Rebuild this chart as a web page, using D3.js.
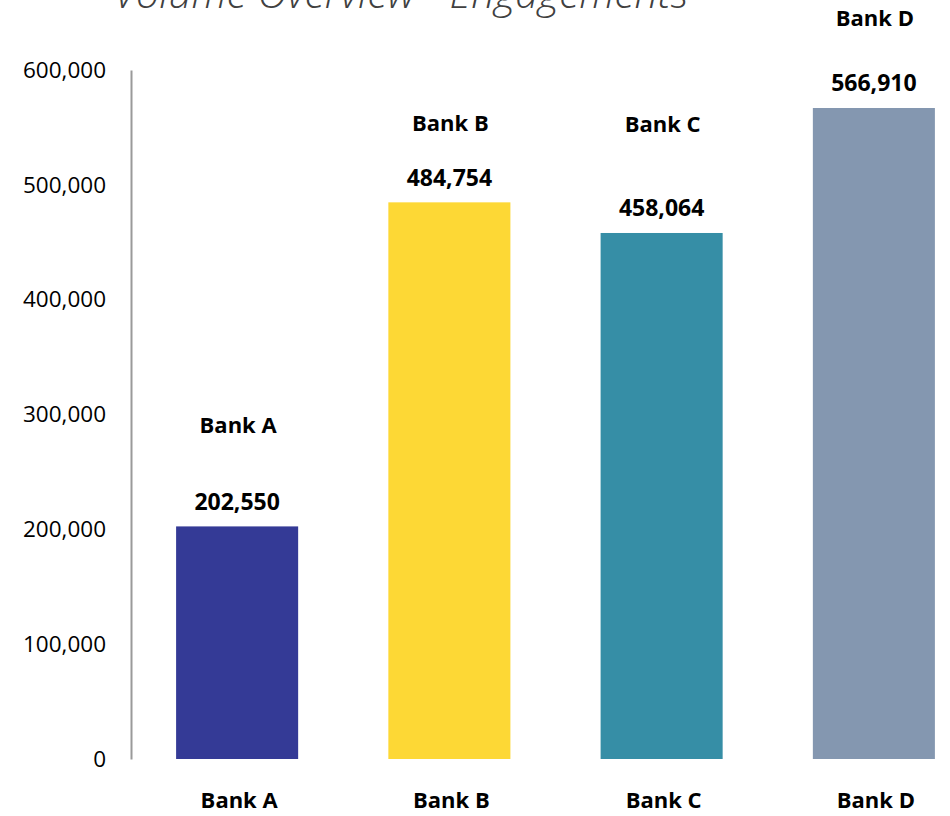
<!DOCTYPE html>
<html>
<head>
<meta charset="utf-8">
<script src="https://cdn.jsdelivr.net/npm/d3@7"></script>
<style>
  html, body { margin: 0; padding: 0; background: #ffffff; }
  svg { display: block; }
</style>
</head>
<body>
<script>
// Engagement volumes per bank
const banks = ["Bank A", "Bank B", "Bank C", "Bank D"];
const engagements = [202550, 484754, 458064, 566910];
const barColors = ["#343A96", "#FDD835", "#368EA6", "#8497B0"];
// Height (in axis units) at which each bank's name label sits above its bar
const nameLabelLevels = [283600, 547100, 546300, 638700];
const yTicks = [0, 100000, 200000, 300000, 400000, 500000, 600000];
const chartTitle = "Volume Overview - Engagements";

const width = 950, height = 816;
const svg = d3.select("body").append("svg")
  .attr("width", width)
  .attr("height", height);

const x = d3.scaleBand()
  .domain(banks)
  .range([131, 980])
  .paddingInner(0.425)
  .paddingOuter(0.2125);

const y = d3.scaleLinear()
  .domain([0, 600000])
  .range([759, 70]);

const fmt = d3.format(",");
const labelFont = "'Open Sans', sans-serif";

// Title (partly above the top edge)
svg.append("text")
  .attr("x", 401)
  .attr("y", 8)
  .attr("text-anchor", "middle")
  .attr("font-family", labelFont)
  .attr("font-style", "italic")
  .attr("font-weight", 300)
  .attr("font-size", 41)
  .attr("fill", "#404040")
  .text(chartTitle);

// Y axis: vertical rule plus tick labels
const yAxis = d3.axisLeft(y)
  .tickValues(yTicks)
  .tickFormat(fmt)
  .tickSize(0)
  .tickPadding(25);

const gy = svg.append("g")
  .attr("transform", "translate(131,0)")
  .call(yAxis);
gy.select(".domain")
  .attr("stroke", "#9a9a9a")
  .attr("stroke-width", 2);
gy.selectAll(".tick text")
  .attr("font-family", labelFont)
  .attr("font-size", 22.5)
  .attr("fill", "#000");

// Bars
svg.append("g").selectAll("rect")
  .data(banks)
  .join("rect")
  .attr("x", d => x(d))
  .attr("width", x.bandwidth())
  .attr("y", (d, i) => y(engagements[i]))
  .attr("height", (d, i) => y(0) - y(engagements[i]))
  .attr("fill", (d, i) => barColors[i]);

// Value labels above the bars
svg.append("g").selectAll("text")
  .data(banks)
  .join("text")
  .attr("x", d => x(d) + x.bandwidth() / 2)
  .attr("y", (d, i) => y(engagements[i]) - 16.5)
  .attr("text-anchor", "middle")
  .attr("font-family", labelFont)
  .attr("font-weight", 700)
  .attr("font-size", 23)
  .attr("fill", "#000")
  .text((d, i) => fmt(engagements[i]));

// Bank name labels above the values
svg.append("g").selectAll("text")
  .data(banks)
  .join("text")
  .attr("x", d => x(d) + x.bandwidth() / 2 + 1)
  .attr("y", (d, i) => y(nameLabelLevels[i]))
  .attr("text-anchor", "middle")
  .attr("font-family", labelFont)
  .attr("font-weight", 700)
  .attr("font-size", 22)
  .attr("fill", "#000")
  .text(d => d);

// Category axis labels
const xAxis = d3.axisBottom(x).tickSize(0).tickPadding(0);
const gx = svg.append("g")
  .attr("transform", "translate(2,0)")
  .call(xAxis);
gx.select(".domain").remove();
gx.selectAll(".tick text")
  .attr("y", 808)
  .attr("dy", null)
  .attr("font-family", labelFont)
  .attr("font-weight", 700)
  .attr("font-size", 22)
  .attr("fill", "#000");
</script>
</body>
</html>
